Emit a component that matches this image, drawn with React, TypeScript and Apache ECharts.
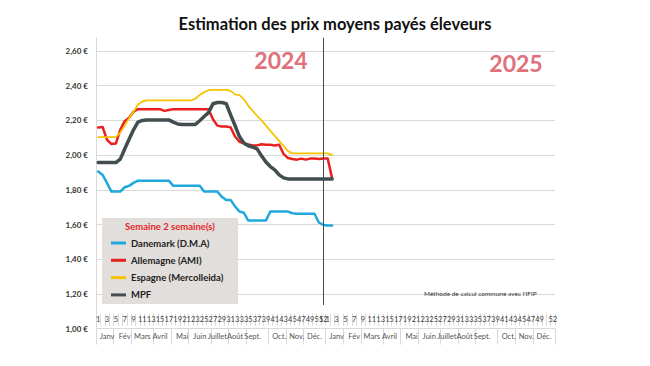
import React, { useEffect, useRef } from 'react';
import * as echarts from 'echarts';

const FONT = 'Lato';

const years = ['2024', '2025'];
const weeksPerYear = 52;
const monthNames = ['Janv', 'Fév', 'Mars', 'Avril', 'Mai', 'Juin', 'Juillet', 'Août', 'Sept.', 'Oct.', 'Nov.', 'Déc.'];
const monthLabelWeeks = [3, 7, 11, 15, 20, 24, 28, 32, 36, 42, 46, 50];
const monthStartWeeks = [1, 5, 9, 14, 18, 22, 27, 31, 35, 40, 44, 48];

const seriesNames = ['Danemark (D.M.A)', 'Allemagne (AMI)', 'Espagne (Mercolleida)', 'MPF'];
const seriesColors = ['#1fa8dc', '#e8201f', '#f5c300', '#424d50'];
const seriesWidths = [2.5, 2.5, 1.8, 3.5];

// 2024 weeks 1..52, then 2025 weeks 1..2
const danemark = [
  1.905, 1.886, 1.839, 1.79, 1.79, 1.79, 1.815, 1.823, 1.84, 1.853,
  1.853, 1.853, 1.853, 1.853, 1.853, 1.853, 1.853, 1.823, 1.823, 1.823,
  1.823, 1.823, 1.823, 1.823, 1.79, 1.79, 1.79, 1.79, 1.76, 1.742,
  1.742, 1.705, 1.675, 1.668, 1.623, 1.623, 1.623, 1.623, 1.623, 1.675,
  1.675, 1.675, 1.675, 1.675, 1.665, 1.662, 1.662, 1.662, 1.662, 1.662,
  1.612, 1.598, 1.595, 1.595,
];
const allemagne = [
  2.159, 2.162, 2.088, 2.064, 2.067, 2.146, 2.196, 2.216, 2.25, 2.265,
  2.265, 2.265, 2.265, 2.265, 2.265, 2.255, 2.26, 2.265, 2.265, 2.265,
  2.265, 2.265, 2.265, 2.265, 2.265, 2.265, 2.207, 2.17, 2.165, 2.165,
  2.16, 2.107, 2.077, 2.068, 2.062, 2.056, 2.056, 2.063, 2.06, 2.06,
  2.056, 2.06, 2.007, 1.983, 1.978, 1.974, 1.98, 1.974, 1.98, 1.98,
  1.978, 1.98, 1.98, 1.866,
];
const espagne = [
  2.104, 2.104, 2.104, 2.104, 2.104, 2.13, 2.17, 2.213, 2.25, 2.29,
  2.309, 2.315, 2.315, 2.315, 2.315, 2.315, 2.315, 2.315, 2.315, 2.315,
  2.315, 2.315, 2.325, 2.347, 2.363, 2.374, 2.376, 2.376, 2.376, 2.376,
  2.37, 2.35, 2.346, 2.323, 2.284, 2.255, 2.227, 2.2, 2.171, 2.14,
  2.111, 2.082, 2.054, 2.023, 2.01, 2.01, 2.01, 2.01, 2.01, 2.01,
  2.01, 2.01, 2.01, 2.0,
];
const mpf = [
  1.957, 1.957, 1.957, 1.957, 1.957, 1.977, 2.035, 2.092, 2.146, 2.19,
  2.2, 2.203, 2.203, 2.203, 2.203, 2.203, 2.203, 2.19, 2.18, 2.177,
  2.177, 2.177, 2.177, 2.198, 2.222, 2.245, 2.296, 2.303, 2.303, 2.297,
  2.232, 2.171, 2.107, 2.07, 2.054, 2.046, 2.036, 1.996, 1.96, 1.934,
  1.915, 1.886, 1.869, 1.863, 1.862, 1.862, 1.862, 1.862, 1.862, 1.862,
  1.862, 1.862, 1.862, 1.862,
];
const seriesValues = [danemark, allemagne, espagne, mpf];

const yMin = 1.0;
const yMax = 2.676; // top of the plot area (last labelled tick is 2,60 €)
const yInterval = 0.2;
const markerWeek = '2024-52';
const markerBottom = 1.137;

const categories: string[] = [];
years.forEach((y) => {
  for (let w = 1; w <= weeksPerYear; w++) categories.push(`${y}-${w}`);
});
const weekOf = (c: string) => Number(c.split('-')[1]);
const pad = (arr: number[]) => categories.map((_, i) => (i < arr.length ? arr[i] : null));

const axisGray = '#d9d9d9';

function buildOption() {
  const series: any[] = seriesNames.map((name, i) => ({
    name,
    type: 'line',
    xAxisIndex: 0,
    data: pad(seriesValues[i]),
    showSymbol: false,
    symbol: 'none',
    lineStyle: { color: seriesColors[i], width: seriesWidths[i], cap: 'round', join: 'round' },
    itemStyle: { color: seriesColors[i] },
    z: 2 + i,
  }));
  series[3].markLine = {
    silent: true,
    symbol: ['none', 'none'],
    label: { show: false },
    lineStyle: { color: '#4a4a4a', width: 1, type: 'solid' },
    data: [[{ xAxis: markerWeek, yAxis: yMax }, { xAxis: markerWeek, yAxis: markerBottom }]],
  };

  return {
    animation: false,
    backgroundColor: '#ffffff',
    textStyle: { fontFamily: FONT },
    title: {
      text: 'Estimation des prix moyens payés éleveurs',
      left: 330,
      top: 10,
      textAlign: 'center',
      textStyle: { fontFamily: FONT, fontSize: 16.5, fontWeight: 'bold', color: '#111' },
    },
    grid: { left: 96, right: 95, top: 37.8, bottom: 37.3, containLabel: false },
    xAxis: [
      {
        type: 'category',
        data: categories,
        boundaryGap: true,
        position: 'bottom',
        offset: -15,
        axisLine: { show: false },
        axisTick: { show: true, interval: 0, length: 12, lineStyle: { color: axisGray } },
        axisLabel: {
          interval: (_i: number, v: string) => weekOf(v) % 2 === 1 || weekOf(v) === 52,
          formatter: (v: string) => String(weekOf(v)),
          showMaxLabel: true,
          fontFamily: FONT,
          fontSize: 7.5,
          color: '#444',
          margin: 2,
        },
        splitLine: { show: false },
      },
      {
        type: 'category',
        data: categories,
        boundaryGap: true,
        position: 'bottom',
        offset: 0,
        axisLine: { show: true, lineStyle: { color: axisGray } },
        axisTick: {
          show: true,
          length: 16,
          interval: (_i: number, v: string) => monthStartWeeks.includes(weekOf(v)),
          lineStyle: { color: axisGray },
        },
        axisLabel: {
          interval: (_i: number, v: string) => monthLabelWeeks.includes(weekOf(v)),
          formatter: (v: string) => {
            const k = monthLabelWeeks.indexOf(weekOf(v));
            return k >= 0 ? monthNames[k] : '';
          },
          hideOverlap: false,
          fontFamily: FONT,
          fontSize: 7.5,
          color: '#555',
          margin: 4,
        },
        splitLine: { show: false },
      },
    ],
    yAxis: {
      type: 'value',
      min: yMin,
      max: yMax,
      interval: yInterval,
      axisLine: { show: true, lineStyle: { color: axisGray } },
      axisTick: { show: false },
      splitLine: { show: true, showMaxLine: false, lineStyle: { color: axisGray, width: 1 } },
      axisLabel: {
        showMaxLabel: false,
        formatter: (v: number) => (v > 2.6001 ? '' : v.toFixed(2).replace('.', ',') + ' €'),
        fontFamily: FONT,
        fontSize: 8,
        fontWeight: 'bold',
        color: '#333',
        margin: 8,
      },
    },
    legend: {
      data: seriesNames,
      orient: 'vertical',
      left: 111,
      top: 237,
      icon: 'rect',
      itemWidth: 15,
      itemHeight: 3,
      itemGap: 5.3,
      padding: 0,
      z: 6,
      textStyle: { fontFamily: FONT, fontSize: 9.5, fontWeight: 'bold', color: '#222', lineHeight: 12 },
    },
    graphic: [
      {
        type: 'rect',
        z: 4,
        shape: { x: 102, y: 218, width: 136, height: 86 },
        style: { fill: '#e2dedb' },
      },
      {
        type: 'text',
        z: 7,
        x: 170,
        y: 226,
        style: {
          text: 'Semaine 2 semaine(s)',
          fill: '#e8262a',
          font: `bold 9.5px ${FONT}`,
          align: 'center',
          verticalAlign: 'middle',
        },
      },
      {
        type: 'text',
        z: 7,
        x: 281,
        y: 60,
        style: {
          text: '2024',
          fill: '#e0707a',
          font: `bold 23px ${FONT}`,
          align: 'center',
          verticalAlign: 'middle',
          shadowColor: 'rgba(0,0,0,0.35)',
          shadowBlur: 2,
          shadowOffsetX: 1,
          shadowOffsetY: 1,
        },
      },
      {
        type: 'text',
        z: 7,
        x: 516,
        y: 63,
        style: {
          text: '2025',
          fill: '#e0707a',
          font: `bold 23px ${FONT}`,
          align: 'center',
          verticalAlign: 'middle',
          shadowColor: 'rgba(0,0,0,0.35)',
          shadowBlur: 2,
          shadowOffsetX: 1,
          shadowOffsetY: 1,
        },
      },
      {
        type: 'text',
        z: 7,
        x: 424,
        y: 293,
        style: {
          text: "Méthode de calcul commune avec l'IFIP",
          fill: '#333',
          font: `6.5px ${FONT}`,
          align: 'left',
          verticalAlign: 'middle',
        },
      },
    ],
    series,
  };
}

export default function App() {
  const ref = useRef<HTMLDivElement>(null);
  useEffect(() => {
    if (!ref.current) return;
    const chart = echarts.init(ref.current, null, { renderer: 'svg' });
    chart.setOption(buildOption() as any);
    return () => chart.dispose();
  }, []);
  return (
    <div
      ref={ref}
      style={{ position: 'fixed', left: 0, top: 0, width: 650, height: 366, background: '#fff' }}
    />
  );
}
